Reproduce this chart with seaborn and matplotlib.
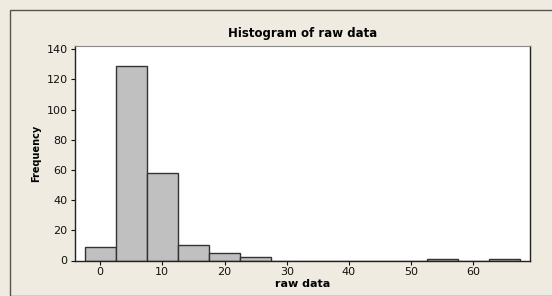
import matplotlib
matplotlib.use("Agg")
import matplotlib.pyplot as plt
import seaborn as sns
import numpy as np
import pandas as pd
from matplotlib.patches import Rectangle

bin_centers = [0, 5, 10, 15, 20, 25, 30, 35, 40, 45, 50, 55, 60, 65]
counts = [9, 129, 58, 10, 5, 2, 0, 0, 0, 0, 0, 1, 0, 1]
x_ticks = [0, 10, 20, 30, 40, 50, 60]
y_ticks = [0, 20, 40, 60, 80, 100, 120, 140]

df = pd.DataFrame({"raw data": bin_centers, "count": counts})

sns.set_style("white")
plt.rcParams['font.family'] = ['DejaVu Sans']

bg = "#EFEBE1"
fig = plt.figure(figsize=(5.52, 2.96), dpi=100, facecolor=bg)
fig.patches.append(Rectangle((10/552, 0), 1, 1 - 10/296, transform=fig.transFigure,
                             fill=False, edgecolor="#555555", linewidth=1.0))
ax = fig.add_axes([74.6/552, 1 - 260.5/296, (530 - 74.6)/552, (260.5 - 45.7)/296])
ax.set_facecolor("white")

sns.histplot(data=df, x="raw data", weights="count", binwidth=5, binrange=(-2.5, 67.5), ax=ax,
             color="#C0C0C0", edgecolor="#333333", linewidth=1.0, alpha=1)

ax.set_xlim(-4.1, 69.1)
ax.set_ylim(0, 142.4)
ax.set_xticks(x_ticks)
ax.set_yticks(y_ticks)
ax.tick_params(axis="both", which="both", direction="out", length=3, width=0.8,
               labelsize=8, colors="#111111", left=True, bottom=True, pad=2)
for s in ["left", "bottom", "right"]:
    ax.spines[s].set_color("#222222")
    ax.spines[s].set_linewidth(1.0)
ax.spines["top"].set_color("#888888")
ax.spines["top"].set_linewidth(0.8)

ax.set_xlabel("raw data", fontsize=8, fontweight="bold", labelpad=1, color="black")
ax.set_ylabel("Frequency", fontsize=7, fontweight="bold", labelpad=4, color="black")
ax.set_title("Histogram of raw data", fontsize=8.5, fontweight="bold", pad=6, color="black")

fig.savefig("out.png", dpi=100, facecolor=bg)
